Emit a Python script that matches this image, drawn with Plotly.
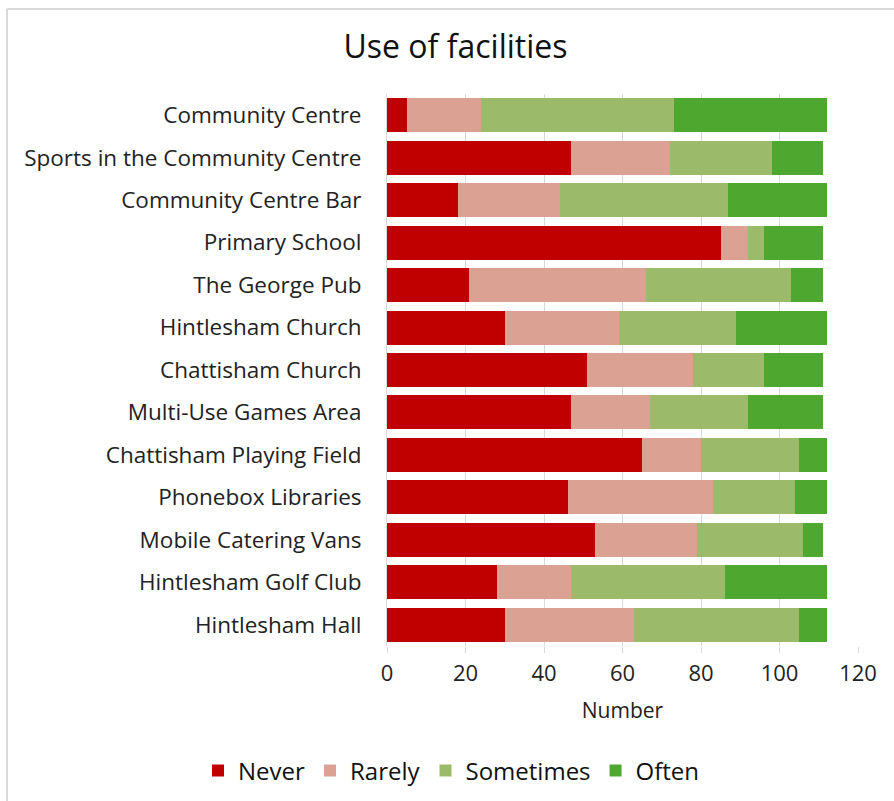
import plotly.graph_objects as go

facilities = [
    "Community Centre",
    "Sports in the Community Centre",
    "Community Centre Bar",
    "Primary School",
    "The George Pub",
    "Hintlesham Church",
    "Chattisham Church",
    "Multi-Use Games Area",
    "Chattisham Playing Field",
    "Phonebox Libraries",
    "Mobile Catering Vans",
    "Hintlesham Golf Club",
    "Hintlesham Hall",
]

never = [5, 47, 18, 85, 21, 30, 51, 47, 65, 46, 53, 28, 30]
rarely = [19, 25, 26, 7, 45, 29, 27, 20, 15, 37, 26, 19, 33]
sometimes = [49, 26, 43, 4, 37, 30, 18, 25, 25, 21, 27, 39, 42]
often = [39, 13, 25, 15, 8, 23, 15, 19, 7, 8, 5, 26, 7]

x_ticks = [0, 20, 40, 60, 80, 100, 120]

series = [
    ("Never", never, "#c00000"),
    ("Rarely", rarely, "#dba294"),
    ("Sometimes", sometimes, "#9bbb6a"),
    ("Often", often, "#4ea72e"),
]

FONT = "Open Sans"

fig = go.Figure()
for name, vals, color in series:
    fig.add_trace(go.Bar(
        name=name,
        y=facilities,
        x=vals,
        orientation="h",
        marker=dict(color=color, line=dict(width=0)),
    ))

W, H = 894, 801
L, R, T, B = 387, 36, 94, 155
pw, ph = W - L - R, H - T - B

def px(x):
    return (x - L) / pw

def py(y):
    return (H - B - y) / ph

fig.update_layout(
    width=W,
    height=H,
    barmode="stack",
    bargap=0.2,
    plot_bgcolor="white",
    paper_bgcolor="white",
    margin=dict(l=L, r=R, t=T, b=B, autoexpand=False),
    font=dict(family=FONT, color="#222222", size=21),
    title=dict(
        text="Use of facilities",
        x=0.5095, xanchor="center",
        y=1 - 47 / H, yanchor="middle",
        font=dict(family=FONT, size=32, color="#111111"),
    ),
    xaxis=dict(
        range=[0, 120],
        tickvals=x_ticks,
        showgrid=True,
        gridcolor="#d9d9d9",
        gridwidth=1,
        zeroline=False,
        showline=False,
        ticks="outside",
        ticklen=6,
        tickcolor="#d9d9d9",
        ticklabelstandoff=2,
        tickfont=dict(family=FONT, size=22, color="#222222"),
        title=dict(text="Number", font=dict(family=FONT, size=21, color="#222222"), standoff=16),
    ),
    yaxis=dict(
        categoryorder="array",
        categoryarray=facilities,
        autorange="reversed",
        showgrid=False,
        showline=True,
        linecolor="#d9d9d9",
        ticks="",
        ticklabelstandoff=20,
        tickfont=dict(family=FONT, size=22.5, color="#222222"),
    ),
    legend=dict(
        orientation="h",
        xref="paper", x=px(198), xanchor="left",
        yref="paper", y=py(771), yanchor="middle",
        font=dict(family=FONT, size=24, color="#111111"),
        itemwidth=30,
        traceorder="normal",
    ),
    shapes=[
        dict(type="line", xref="paper", yref="paper",
             x0=px(7), x1=px(W), y0=py(9), y1=py(9),
             line=dict(color="#d9d9d9", width=2)),
        dict(type="line", xref="paper", yref="paper",
             x0=px(7), x1=px(7), y0=py(9), y1=py(H),
             line=dict(color="#d9d9d9", width=2)),
    ],
)

fig.write_html("out.html")
